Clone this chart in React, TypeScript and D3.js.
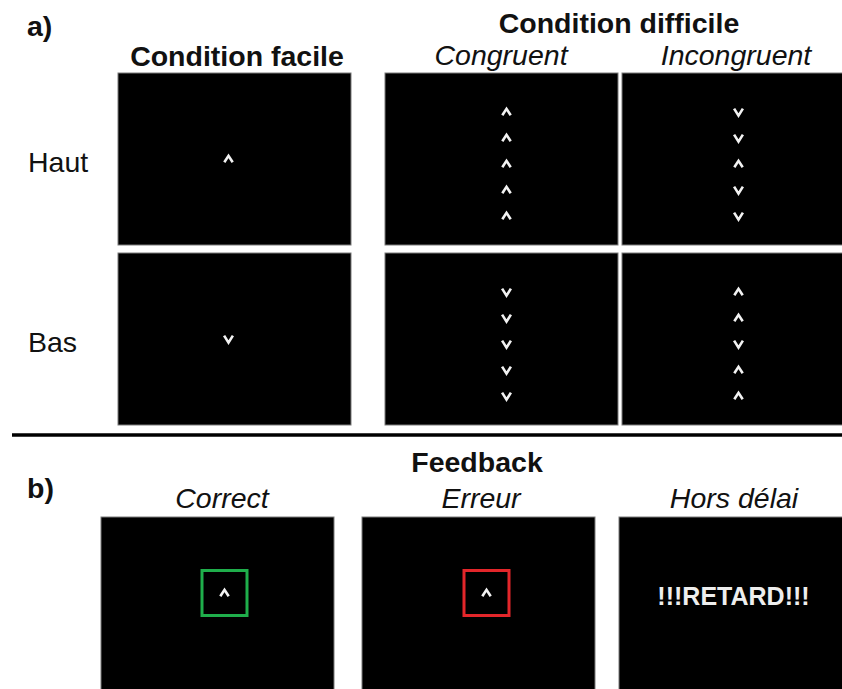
import React, { useRef, useEffect } from "react"
import * as d3 from "d3"

// Stimulus sequences, top to bottom ("^" = up, "v" = down)
const rowLabels = ["Haut", "Bas"]
const columnLabels = ["Condition facile", "Congruent", "Incongruent"]
const difficileTitle = "Condition difficile"
const stimuli: string[][][] = [
  // Condition facile
  [["^"], ["v"]],
  // Congruent
  [["^", "^", "^", "^", "^"], ["v", "v", "v", "v", "v"]],
  // Incongruent
  [["v", "v", "^", "v", "v"], ["^", "^", "v", "^", "^"]],
]

const feedbackTitle = "Feedback"
const feedbackLabels = ["Correct", "Erreur", "Hors délai"]
const feedbackKinds = ["correct", "error", "late"]
const lateMessage = "!!!RETARD!!!"

const W = 842
const H = 689
const FONT = "'Liberation Sans', Arial, sans-serif"

const App: React.FC = () => {
  const svgRef = useRef<SVGSVGElement | null>(null)

  useEffect(() => {
    const svg = d3.select(svgRef.current)
    svg.selectAll("*").remove()

    // panel geometry
    const panelW = 233
    const panelH = 172
    const topX = [118, 385, 622]
    const topY = [73, 253]
    const stimOffset = [-6, 5, 0]
    const fbX = [101, 362, 619]
    const fbY = 517

    // glyph positions inside a column of 5 stimuli
    const stackY = d3.scalePoint<number>().domain(d3.range(5)).range([-47, 57])

    const drawGlyph = (g: d3.Selection<SVGGElement, unknown, null, undefined>, kind: string, x: number, y: number) => {
      const d = kind === "^"
        ? "M-4.2,3.2 L0,-3.2 L4.2,3.2"
        : "M-4.4,-3.4 L0,3.6 L4.4,-3.4"
      g.append("path")
        .attr("d", d)
        .attr("transform", `translate(${x},${y})`)
        .attr("fill", "none")
        .attr("stroke", "#f2f2f2")
        .attr("stroke-width", 2.6)
        .attr("stroke-linejoin", "miter")
    }

    const panel = (x: number, y: number, h = panelH) =>
      svg.append("rect")
        .attr("x", x).attr("y", y)
        .attr("width", panelW).attr("height", h)
        .attr("fill", "#000")
        .attr("stroke", "#7a7a7a")
        .attr("stroke-width", 1)

    const text = (s: string, x: number, y: number, opts: { bold?: boolean; italic?: boolean; anchor?: string; size?: number; fill?: string } = {}) =>
      svg.append("text")
        .attr("x", x).attr("y", y)
        .attr("font-family", FONT)
        .attr("font-size", opts.size ?? 28.5)
        .attr("font-weight", opts.bold ? "bold" : "normal")
        .attr("font-style", opts.italic ? "italic" : "normal")
        .attr("text-anchor", opts.anchor ?? "start")
        .attr("fill", opts.fill ?? "#111")
        .text(s)

    // ---- part a ----
    text("a)", 27, 36, { bold: true })
    text(difficileTitle, 619, 33, { bold: true, anchor: "middle" })
    text(columnLabels[0], 237, 66, { bold: true, anchor: "middle" })
    text(columnLabels[1], 501, 65, { italic: true, anchor: "middle" })
    text(columnLabels[2], 736, 65, { italic: true, anchor: "middle" })

    rowLabels.forEach((lab, r) => {
      text(lab, 28, topY[r] + 99, {})
    })

    stimuli.forEach((col, c) => {
      col.forEach((seq, r) => {
        panel(topX[c], topY[r])
        const g = svg.append("g")
        const cx = topX[c] + panelW / 2 + stimOffset[c]
        const cy = topY[r] + panelH / 2
        seq.forEach((k, i) => {
          const dy = seq.length === 1 ? 0 : (stackY(i) as number)
          drawGlyph(g, k, cx, cy + dy)
        })
      })
    })

    // separator
    svg.append("line")
      .attr("x1", 12).attr("x2", W)
      .attr("y1", 435).attr("y2", 435)
      .attr("stroke", "#000")
      .attr("stroke-width", 3.5)

    // ---- part b ----
    text("b)", 27, 498, { bold: true })
    text(feedbackTitle, 477, 472, { bold: true, anchor: "middle" })

    feedbackKinds.forEach((kind, i) => {
      text(feedbackLabels[i], [222, 481, 734][i], 508, { italic: true, anchor: "middle" })
      panel(fbX[i], fbY, H - fbY + 2)
      const g = svg.append("g")
      if (kind === "late") {
        g.append("text")
          .attr("x", fbX[i] + panelW / 2 - 2)
          .attr("y", 605)
          .attr("font-family", FONT)
          .attr("font-size", 25)
          .attr("font-weight", "bold")
          .attr("text-anchor", "middle")
          .attr("fill", "#eee")
          .text(lateMessage)
      } else {
        const cx = fbX[i] + panelW / 2 + (kind === "correct" ? 7 : 8)
        const cy = 593
        g.append("rect")
          .attr("x", cx - 22.5).attr("y", cy - 22.5)
          .attr("width", 45).attr("height", 45)
          .attr("fill", "none")
          .attr("stroke", kind === "correct" ? "#1fae4b" : "#e3262a")
          .attr("stroke-width", 3)
        drawGlyph(g, "^", cx, cy)
      }
    })
  }, [])

  return (
    <svg
      ref={svgRef}
      width={W}
      height={H}
      style={{ position: "absolute", left: 0, top: 0, background: "#fff" }}
    />
  )
}

export default App
